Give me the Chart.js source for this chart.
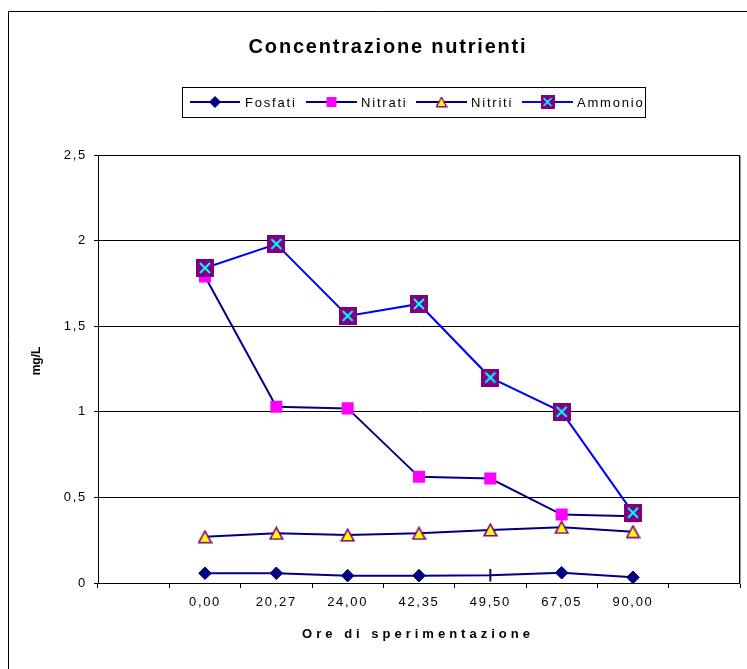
<!DOCTYPE html>
<html>
<head>
<meta charset="utf-8">
<script src="https://cdn.jsdelivr.net/npm/chart.js@4/dist/chart.umd.min.js"></script>
<style>
  html, body { margin: 0; padding: 0; background: #fff; }
  canvas { display: block; }
</style>
</head>
<body>
<canvas id="chart" width="747" height="669"></canvas>
<script>
// Sampling hours (blank slots pad the axis on both sides)
const hours = ['', '0,00', '20,27', '24,00', '42,35', '49,50', '67,05', '90,00', ''];

// Concentrations in mg/L
const fosfati = [null, 0.057, 0.057, 0.043, 0.043, 0.045, 0.06, 0.033, null];
const nitrati = [null, 1.79, 1.03, 1.02, 0.62, 0.61, 0.40, 0.39, null];
const nitriti = [null, 0.27, 0.29, 0.28, 0.29, 0.31, 0.325, 0.30, null];
const ammonio = [null, 1.84, 1.98, 1.56, 1.63, 1.20, 1.00, 0.41, null];

const yTicks = [0, 0.5, 1, 1.5, 2, 2.5];

const FONT = '"Liberation Sans", Arial, sans-serif';
const NAVY = '#000080';

// Marker images
function makeAmmonioMarker() {
  const c = document.createElement('canvas');
  c.width = 18; c.height = 18;
  const g = c.getContext('2d');
  g.fillStyle = '#800080';
  g.fillRect(0, 0, 18, 18);
  g.strokeStyle = '#00FFFF';
  g.lineWidth = 2;
  g.beginPath();
  g.moveTo(4, 4); g.lineTo(14, 14);
  g.moveTo(14, 4); g.lineTo(4, 14);
  g.stroke();
  return c;
}
function makeTriangleMarker() {
  const c = document.createElement('canvas');
  c.width = 15; c.height = 14;
  const g = c.getContext('2d');
  g.beginPath();
  g.moveTo(7.5, 1.2);
  g.lineTo(13.8, 12.8);
  g.lineTo(1.2, 12.8);
  g.closePath();
  g.fillStyle = '#FFFF00';
  g.fill();
  g.strokeStyle = '#800080';
  g.lineWidth = 1.6;
  g.lineJoin = 'miter';
  g.stroke();
  return c;
}
const ammonioMarker = makeAmmonioMarker();
const triangleMarker = makeTriangleMarker();

// Fosfati: diamonds, with a vertical dash at 49,50
const fosfatiStyle = fosfati.map((v, i) => hours[i] === '49,50' ? 'line' : 'rectRot');
const fosfatiRot = fosfati.map((v, i) => hours[i] === '49,50' ? 90 : 0);
const fosfatiBW = fosfati.map((v, i) => hours[i] === '49,50' ? 2 : 1);

const datasets = [
  {
    label: 'Fosfati', data: fosfati,
    borderColor: NAVY, backgroundColor: NAVY, borderWidth: 2,
    pointStyle: fosfatiStyle, pointRotation: fosfatiRot,
    pointRadius: 6.3, pointBorderWidth: fosfatiBW,
    pointBackgroundColor: NAVY, pointBorderColor: NAVY, order: 3
  },
  {
    label: 'Nitrati', data: nitrati,
    borderColor: NAVY, backgroundColor: '#FF00FF', borderWidth: 2,
    pointStyle: 'rect', pointRadius: 8.5, pointBorderWidth: 0,
    pointBackgroundColor: '#FF00FF', pointBorderColor: '#FF00FF', order: 2
  },
  {
    label: 'Nitriti', data: nitriti,
    borderColor: NAVY, backgroundColor: '#FFFF00', borderWidth: 2,
    pointStyle: triangleMarker, pointRadius: 7, order: 1
  },
  {
    label: 'Ammonio', data: ammonio,
    borderColor: '#0000FF', backgroundColor: '#800080', borderWidth: 2,
    pointStyle: ammonioMarker, pointRadius: 9, order: 0
  }
];

// Frame, title, legend box and axis titles
const decor = {
  id: 'decor',
  beforeDraw(chart) {
    const ctx = chart.ctx;
    ctx.save();
    ctx.fillStyle = '#fff';
    ctx.fillRect(0, 0, chart.width, chart.height);
    ctx.strokeStyle = '#000';
    ctx.lineWidth = 1;
    ctx.beginPath();
    ctx.moveTo(8.5, chart.height);
    ctx.lineTo(8.5, 11.5);
    ctx.lineTo(chart.width, 11.5);
    ctx.stroke();
    ctx.restore();
    ctx.letterSpacing = '1.7px';
  },
  afterDraw(chart) {
    const ctx = chart.ctx;
    const a = chart.chartArea;
    ctx.save();

    // plot area border (top and right)
    ctx.strokeStyle = '#000';
    ctx.lineWidth = 1;
    ctx.beginPath();
    ctx.moveTo(a.left, a.top + 0.5);
    ctx.lineTo(a.right - 0.5, a.top + 0.5);
    ctx.lineTo(a.right - 0.5, a.bottom);
    ctx.stroke();
    ctx.strokeStyle = '#999';
    ctx.beginPath();
    ctx.moveTo(a.right + 0.5, a.top + 1);
    ctx.lineTo(a.right + 0.5, a.bottom + 1);
    ctx.stroke();

    // chart title
    ctx.letterSpacing = '1.8px';
    ctx.fillStyle = '#000';
    ctx.font = 'bold 20px ' + FONT;
    ctx.textAlign = 'center';
    ctx.textBaseline = 'middle';
    ctx.fillText('Concentrazione nutrienti', 388, 47);

    // legend
    const lx = 182, ly = 87, lw = 463, lh = 30;
    ctx.strokeStyle = '#000';
    ctx.lineWidth = 1;
    ctx.strokeRect(lx + 0.5, ly + 0.5, lw, lh);
    const cy = 102;
    const items = [
      { ds: datasets[0], x0: 190, x1: 240, tx: 245 },
      { ds: datasets[1], x0: 306, x1: 357, tx: 361 },
      { ds: datasets[2], x0: 416, x1: 467, tx: 471 },
      { ds: datasets[3], x0: 522, x1: 573, tx: 577 }
    ];
    ctx.font = '13px ' + FONT;
    ctx.textAlign = 'left';
    ctx.textBaseline = 'middle';
    items.forEach((it, i) => {
      const ds = it.ds;
      ctx.strokeStyle = ds.borderColor;
      ctx.lineWidth = 2;
      ctx.beginPath();
      ctx.moveTo(it.x0, cy);
      ctx.lineTo(it.x1, cy);
      ctx.stroke();
      const mx = (it.x0 + it.x1) / 2;
      if (i === 0) {
        ctx.fillStyle = NAVY;
        ctx.beginPath();
        ctx.moveTo(mx, cy - 6); ctx.lineTo(mx + 6, cy);
        ctx.lineTo(mx, cy + 6); ctx.lineTo(mx - 6, cy);
        ctx.closePath();
        ctx.fill();
      } else if (i === 1) {
        ctx.fillStyle = '#FF00FF';
        ctx.fillRect(mx - 5, cy - 5, 10, 10);
      } else if (i === 2) {
        ctx.drawImage(triangleMarker, mx - 6, cy - 5.5, 12, 11);
      } else {
        ctx.drawImage(ammonioMarker, mx - 7, cy - 7, 14, 14);
      }
      ctx.fillStyle = '#000';
      ctx.letterSpacing = '1.8px';
      ctx.fillText(ds.label, it.tx, cy + 1);
    });

    // x axis title
    ctx.font = 'bold 13px ' + FONT;
    ctx.letterSpacing = '4px';
    ctx.textAlign = 'center';
    ctx.fillText('Ore di sperimentazione', 418, 634);

    // y axis title
    ctx.letterSpacing = '0px';
    ctx.translate(37, 361);
    ctx.rotate(-Math.PI / 2);
    ctx.font = 'bold 12px ' + FONT;
    ctx.fillText('mg/L', 0, 0);
    ctx.restore();
  }
};

new Chart(document.getElementById('chart'), {
  type: 'line',
  data: { labels: hours, datasets },
  options: {
    responsive: false,
    animation: false,
    devicePixelRatio: 1,
    layout: { autoPadding: false, padding: { left: 0, right: 7, top: 155, bottom: 0 } },
    elements: { line: { tension: 0 } },
    plugins: {
      legend: { display: false },
      tooltip: { enabled: false },
      title: { display: false }
    },
    scales: {
      x: {
        type: 'category',
        offset: true,
        grid: { offset: true, drawOnChartArea: false, tickLength: 5, color: '#000' },
        border: { color: '#000', width: 1 },
        ticks: {
          color: '#000', autoSkip: false, maxRotation: 0, padding: 7,
          font: { family: FONT, size: 13 }
        },
        afterFit(s) { s.height = 86; s.paddingLeft = 0; s.paddingRight = 0; }
      },
      y: {
        min: 0, max: 2.5,
        grid: { color: '#000', tickLength: 4 },
        border: { color: '#000', width: 1 },
        ticks: {
          color: '#000', padding: 7,
          font: { family: FONT, size: 13 },
          callback: v => String(v).replace('.', ',')
        },
        afterBuildTicks(s) { s.ticks = yTicks.map(v => ({ value: v })); },
        afterFit(s) { s.width = 98; s.paddingTop = 0; s.paddingBottom = 0; }
      }
    }
  },
  plugins: [decor]
});
</script>
</body>
</html>
